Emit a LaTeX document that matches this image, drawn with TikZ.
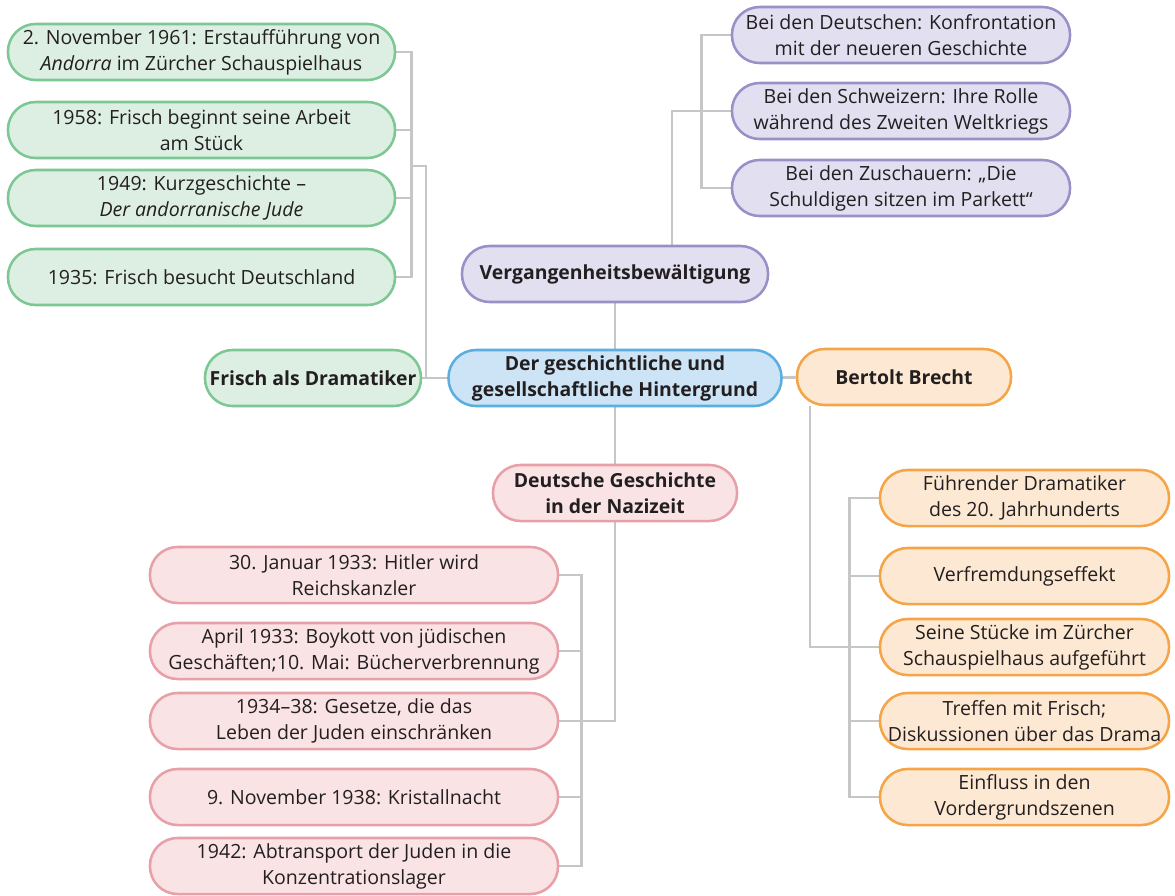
\documentclass[tikz,border=0pt]{standalone}
\usepackage{fontspec}
\setmainfont{Open Sans}
\usetikzlibrary{backgrounds}

\definecolor{txt}{HTML}{231F20}
\definecolor{lnk}{HTML}{C6C6C6}
\definecolor{grnF}{HTML}{DCEFE2}
\definecolor{grnD}{HTML}{7CC793}
\definecolor{lilF}{HTML}{E1DFF0}
\definecolor{lilD}{HTML}{9A90C8}
\definecolor{bluF}{HTML}{CCE4F5}
\definecolor{bluD}{HTML}{5AAEE0}
\definecolor{orgF}{HTML}{FDE9D3}
\definecolor{orgD}{HTML}{F5A547}
\definecolor{rosF}{HTML}{F9E3E5}
\definecolor{rosD}{HTML}{E8A0A8}

\tikzset{
  box/.style={draw, line width=1.8pt, rounded corners=0.69cm, align=center,
    inner sep=0pt, minimum height=1.4cm, text=txt,
    font=\fontsize{13.9}{18.5}\selectfont},
  head/.style={box, font=\fontsize{13.8}{18.5}\selectfont\bfseries},
  grn/.style={fill=grnF, draw=grnD},
  lil/.style={fill=lilF, draw=lilD},
  blu/.style={fill=bluF, draw=bluD},
  org/.style={fill=orgF, draw=orgD},
  ros/.style={fill=rosF, draw=rosD},
  conn/.style={draw=lnk, line width=2pt}
}

\begin{document}
\begin{tikzpicture}[x=0.025cm, y=-0.025cm]
\useasboundingbox (0,0) rectangle (1175,895);

\node [head, blu, minimum width=8.325cm] (mid) at (615,378) {Der geschichtliche und\\gesellschaftliche Hintergrund};
\node [head, lil, minimum width=7.65cm] (verg) at (615,274) {Vergangenheitsbewältigung};
\node [head, grn, minimum width=5.4cm] (frisch) at (313,378) {Frisch als Dramatiker};
\node [head, org, minimum width=5.35cm] (brecht) at (904,377) {Bertolt Brecht};
\node [head, ros, minimum width=6.1cm] (dg) at (615,493) {Deutsche Geschichte\\in der Nazizeit};

\node [box, grn, minimum width=9.675cm] (g1) at (201.5,52) {2. November 1961: Erstaufführung von\\\textit{Andorra} im Zürcher Schauspielhaus};
\node [box, grn, minimum width=9.675cm] (g2) at (201.5,130) {1958: Frisch beginnt seine Arbeit\\am Stück};
\node [box, grn, minimum width=9.675cm] (g3) at (201.5,198) {1949: Kurzgeschichte –\\\textit{Der andorranische Jude}};
\node [box, grn, minimum width=9.675cm] (g4) at (201.5,277) {1935: Frisch besucht Deutschland};

\node [box, lil, minimum width=8.45cm] (p1) at (901,35) {Bei den Deutschen: Konfrontation\\mit der neueren Geschichte};
\node [box, lil, minimum width=8.45cm] (p2) at (901,111) {Bei den Schweizern: Ihre Rolle\\während des Zweiten Weltkriegs};
\node [box, lil, minimum width=8.45cm] (p3) at (901,188) {Bei den Zuschauern: „Die\\Schuldigen sitzen im Parkett“};

\node [box, org, minimum width=7.225cm] (o1) at (1024.5,498) {Führender Dramatiker\\des 20. Jahrhunderts};
\node [box, org, minimum width=7.225cm] (o2) at (1024.5,576) {Verfremdungseffekt};
\node [box, org, minimum width=7.225cm] (o3) at (1024.5,647) {Seine Stücke im Zürcher\\Schauspielhaus aufgeführt};
\node [box, org, minimum width=7.225cm] (o4) at (1024.5,721) {Treffen mit Frisch;\\Diskussionen über das Drama};
\node [box, org, minimum width=7.225cm] (o5) at (1024.5,797) {Einfluss in den\\Vordergrundszenen};

\node [box, ros, minimum width=10.2cm] (r1) at (354,575) {30. Januar 1933: Hitler wird\\Reichskanzler};
\node [box, ros, minimum width=10.2cm] (r2) at (354,651) {April 1933: Boykott von jüdischen\\Geschäften;10. Mai: Bücherverbrennung};
\node [box, ros, minimum width=10.2cm] (r3) at (354,721) {1934–38: Gesetze, die das\\Leben der Juden einschränken};
\node [box, ros, minimum width=10.2cm] (r4) at (354,797) {9. November 1938: Kristallnacht};
\node [box, ros, minimum width=10.2cm] (r5) at (354,866) {1942: Abtransport der Juden in die\\Konzentrationslager};

\coordinate (gk) at (410,166);
\coordinate (fk) at (426,378);
\coordinate (vk) at (672,111);
\coordinate (bk) at (810,0);

\begin{scope}[on background layer]
\draw [conn] (frisch) -- (mid);
\draw [conn] (mid) -- (brecht);
\draw [conn] (verg) -- (mid);
\draw [conn] (dg) -- (mid);

\draw [conn] (g1.east) -- ++(15,0) |- (g4.east);
\draw [conn] (g2.east) -- ++(15,0);
\draw [conn] (g3.east) -- ++(15,0);
\draw [conn] (gk) -| (fk);

\draw [conn] (p1.west) -- ++(-29,0) |- (p3.west);
\draw [conn] (p2.west) -- (vk) -- (vk |- verg.north);

\draw [conn] (bk |- brecht.south) |- (o3.west);
\draw [conn] (o1.west) -- ++(-29,0) |- (o5.west);
\draw [conn] (o2.west) -- ++(-29,0);
\draw [conn] (o4.west) -- ++(-29,0);

\draw [conn] (dg.south) |- (r3.east);
\draw [conn] (r1.east) -- ++(22,0) |- (r5.east);
\draw [conn] (r2.east) -- ++(22,0);
\draw [conn] (r4.east) -- ++(22,0);
\end{scope}

\end{tikzpicture}
\end{document}
